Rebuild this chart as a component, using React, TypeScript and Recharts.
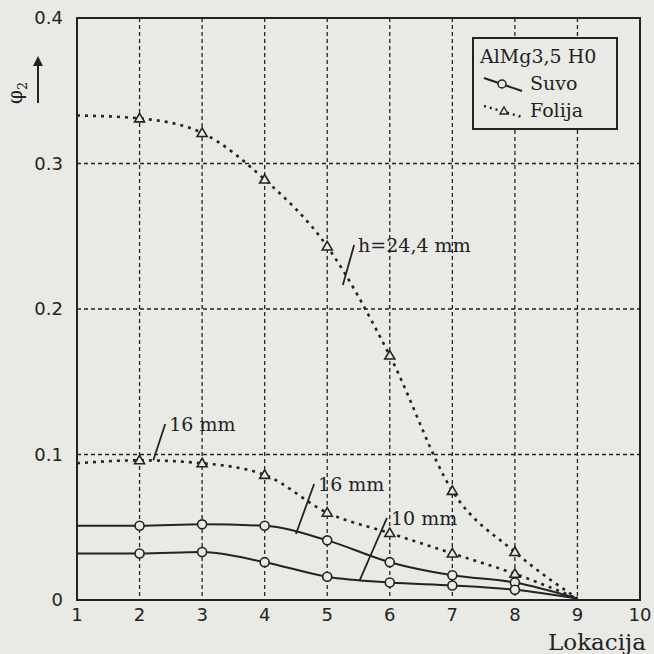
import {
  LineChart, Line, XAxis, YAxis, CartesianGrid, Legend, Label,
  ReferenceArea, ReferenceLine, ReferenceDot,
} from 'recharts';

document.body.style.margin = '0';

// Locations along the part and measured strain values phi2
const locations = [1, 2, 3, 4, 5, 6, 7, 8, 9];
const folija244 = [0.333, 0.331, 0.321, 0.289, 0.243, 0.168, 0.075, 0.033, 0.001];
const folija16 = [0.094, 0.096, 0.094, 0.086, 0.060, 0.046, 0.032, 0.018, 0.001];
const suvo16 = [0.051, 0.051, 0.052, 0.051, 0.041, 0.026, 0.017, 0.012, 0.001];
const suvo10 = [0.032, 0.032, 0.033, 0.026, 0.016, 0.012, 0.010, 0.007, 0.001];

const xTicks = [1, 2, 3, 4, 5, 6, 7, 8, 9, 10];
const yTicks = [0, 0.1, 0.2, 0.3, 0.4];

const data = locations.map((x, i) => ({
  x,
  folija244: folija244[i],
  folija16: folija16[i],
  suvo16: suvo16[i],
  suvo10: suvo10[i],
}));

const INK = '#232323';
const BG = '#e9e9e6';
const SERIF = '"DejaVu Serif", serif';
const SANS = '"DejaVu Sans", sans-serif';

// markers only on the interior locations
const circleDot = (props: any) => {
  const { cx, cy, index } = props;
  if (index === 0 || index === locations.length - 1) return <g key={index} />;
  return <circle key={index} cx={cx} cy={cy} r={4.5} fill={BG} stroke={INK} strokeWidth={1.6} />;
};

const triangleDot = (props: any) => {
  const { cx, cy, index } = props;
  if (index === 0 || index === locations.length - 1) return <g key={index} />;
  const s = 5;
  return (
    <path
      key={index}
      d={`M${cx},${cy - s} L${cx + s},${cy + s * 0.7} L${cx - s},${cy + s * 0.7} Z`}
      fill={BG}
      stroke={INK}
      strokeWidth={1.6}
    />
  );
};

const renderLegend = () => (
  <div
    style={{
      border: `2px solid ${INK}`,
      background: BG,
      width: 132,
      padding: '4px 4px 4px 6px',
      fontFamily: SERIF,
      fontSize: 19,
      color: INK,
      lineHeight: '27px',
    }}
  >
    <div>AlMg3,5 H0</div>
    <div style={{ display: 'flex', alignItems: 'center' }}>
      <svg width={46} height={22}>
        <line x1={4} y1={5} x2={42} y2={18} stroke={INK} strokeWidth={2} />
        <circle cx={22} cy={11} r={4} fill={BG} stroke={INK} strokeWidth={1.5} />
      </svg>
      <span style={{ marginLeft: 4 }}>Suvo</span>
    </div>
    <div style={{ display: 'flex', alignItems: 'center' }}>
      <svg width={46} height={22}>
        <line x1={4} y1={6} x2={42} y2={17} stroke={INK} strokeWidth={2.5} strokeDasharray="2 4" />
        <path d="M24,7 L28,14 L20,14 Z" fill={BG} stroke={INK} strokeWidth={1.4} />
      </svg>
      <span style={{ marginLeft: 4 }}>Folija</span>
    </div>
  </div>
);

const renderYLabel = () => (
  <g>
    <text
      x={22}
      y={104}
      transform="rotate(-90 22 104)"
      fontFamily={SERIF}
      fontSize={20}
      fill={INK}
    >
      φ<tspan fontSize={13} dy={5}>2</tspan>
    </text>
    <line x1={38} y1={103} x2={38} y2={64} stroke={INK} strokeWidth={2} />
    <path d="M33,66 L38,56 L43,66 Z" fill={INK} />
  </g>
);

const renderXLabel = () => (
  <text x={597} y={650} textAnchor="middle" fontFamily={SERIF} fontSize={23} fill={INK}>
    Lokacija
  </text>
);

const noteLabel = (value: string) => ({
  value,
  position: 'right' as const,
  offset: 4,
  fill: INK,
  fontFamily: SERIF,
  fontSize: 19,
});

export default function App() {
  return (
    <div style={{ width: 654, height: 654, background: BG }}>
      <LineChart
        width={654}
        height={654}
        data={data}
        margin={{ top: 18, right: 14, left: 30, bottom: 24 }}
      >
        <CartesianGrid stroke={INK} strokeDasharray="4 3" strokeWidth={1.3} />
        <XAxis
          dataKey="x"
          type="number"
          domain={[1, 10]}
          ticks={xTicks}
          tickLine={false}
          axisLine={{ stroke: INK, strokeWidth: 2 }}
          tick={{ fill: INK, fontFamily: SANS, fontSize: 18 }}
          tickMargin={2}
          height={30}
        >
          <Label content={renderXLabel} />
        </XAxis>
        <YAxis
          type="number"
          domain={[0, 0.4]}
          ticks={yTicks}
          tickFormatter={(v: number) => (v === 0 ? '0' : v.toFixed(1))}
          tickLine={false}
          axisLine={{ stroke: INK, strokeWidth: 2 }}
          tick={{ fill: INK, fontFamily: SANS, fontSize: 18 }}
          tickMargin={8}
          width={47}
        >
          <Label content={renderYLabel} />
        </YAxis>
        <ReferenceArea x1={1} x2={10} y1={0} y2={0.4} fill="none" stroke={INK} strokeWidth={2} />

        <Line type="monotone" dataKey="folija244" stroke={INK} strokeWidth={2.6} strokeDasharray="3 5"
          dot={triangleDot} activeDot={false} isAnimationActive={false} />
        <Line type="monotone" dataKey="folija16" stroke={INK} strokeWidth={2.6} strokeDasharray="3 5"
          dot={triangleDot} activeDot={false} isAnimationActive={false} />
        <Line type="monotone" dataKey="suvo16" stroke={INK} strokeWidth={2}
          dot={circleDot} activeDot={false} isAnimationActive={false} />
        <Line type="monotone" dataKey="suvo10" stroke={INK} strokeWidth={2}
          dot={circleDot} activeDot={false} isAnimationActive={false} />

        {/* leader lines and curve notes */}
        <ReferenceLine segment={[{ x: 5.43, y: 0.244 }, { x: 5.25, y: 0.2165 }]} stroke={INK} strokeWidth={1.8} />
        <ReferenceDot x={5.43} y={0.244} r={0} fill="none" stroke="none" label={noteLabel('h=24,4 mm')} />
        <ReferenceLine segment={[{ x: 2.41, y: 0.121 }, { x: 2.22, y: 0.096 }]} stroke={INK} strokeWidth={1.8} />
        <ReferenceDot x={2.41} y={0.121} r={0} fill="none" stroke="none" label={noteLabel('16 mm')} />
        <ReferenceLine segment={[{ x: 4.79, y: 0.0797 }, { x: 4.5, y: 0.0454 }]} stroke={INK} strokeWidth={1.8} />
        <ReferenceDot x={4.79} y={0.0797} r={0} fill="none" stroke="none" label={noteLabel('16 mm')} />
        <ReferenceLine segment={[{ x: 5.955, y: 0.0564 }, { x: 5.52, y: 0.0137 }]} stroke={INK} strokeWidth={1.8} />
        <ReferenceDot x={5.955} y={0.0564} r={0} fill="none" stroke="none" label={noteLabel('10 mm')} />

        <Legend
          layout="vertical"
          align="center"
          verticalAlign="middle"
          content={renderLegend}
          wrapperStyle={{ top: 37, left: 472, width: 'auto' }}
        />
      </LineChart>
    </div>
  );
}
